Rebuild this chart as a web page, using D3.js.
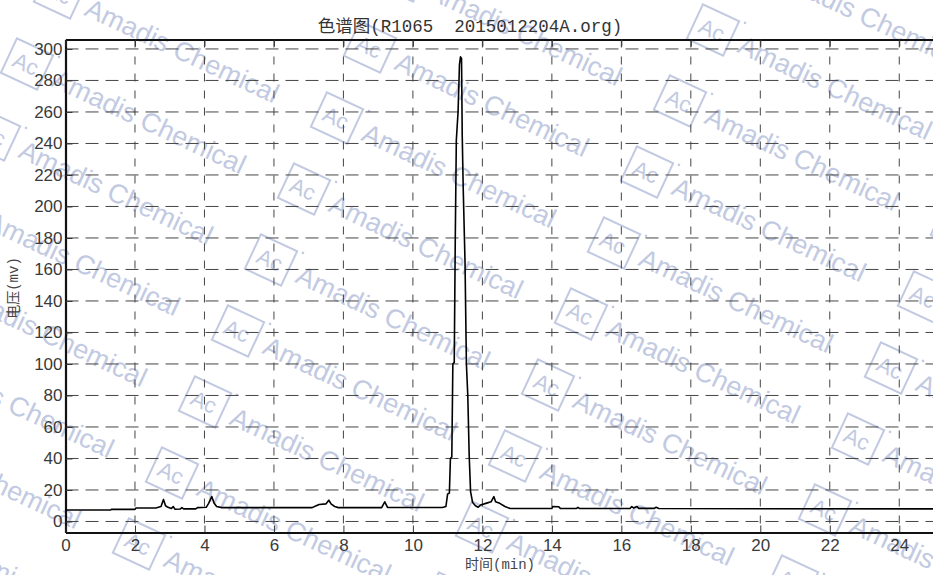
<!DOCTYPE html>
<html>
<head>
<meta charset="utf-8">
<script src="https://cdn.jsdelivr.net/npm/d3@7"></script>
<style>
    body { margin: 0; background: #fff; }
    svg { display: block; }
</style>
</head>
<body>
<svg id="chart"></svg>
<script>
// retention time (min) and detector voltage (mV)
const time = [0, 1.3, 1.32, 2.0, 2.03, 2.6, 2.75, 2.82, 2.88, 2.95, 3.05, 3.1, 3.15, 3.3, 3.35, 3.4, 3.75, 3.8,
    4.05, 4.12, 4.21, 4.28, 4.35, 4.5, 7.1, 7.2, 7.3, 7.5, 7.58, 7.65, 7.75, 7.85, 9.1, 9.19, 9.27, 10.85,
    10.95, 11.0, 11.05, 11.08, 11.12, 11.15, 11.19, 11.22, 11.25, 11.3, 11.34, 11.37, 11.4, 11.42, 11.45,
    11.5, 11.54, 11.58, 11.62, 11.66, 11.72, 11.8, 11.88, 11.95, 12.1, 12.25, 12.33, 12.38, 12.5, 12.65,
    12.8, 14.0, 14.02, 14.2, 14.25, 14.7, 14.75, 14.8, 16.25, 16.3, 16.35, 16.45, 16.5, 16.95, 17.0, 17.08, 25];
const voltage = [7.3, 7.3, 7.7, 7.7, 8.6, 8.6, 9.5, 14.0, 10.0, 9.0, 8.2, 9.5, 7.8, 7.9, 8.8, 8.0, 8.0, 8.8,
    9.0, 11.5, 15.8, 11.5, 9.5, 8.8, 8.8, 9.8, 10.8, 11.2, 13.5, 11.0, 9.5, 8.8, 8.8, 12.5, 8.9, 8.9,
    9.5, 17.5, 18, 40, 41, 100, 101, 180, 242, 260, 290, 295, 294, 245, 210,
    165, 100, 80, 42, 19, 12, 10, 9, 10.5, 11.5, 12.5, 15.8, 12.5, 11.5, 9.5,
    8.2, 8.2, 9.5, 9.3, 8.2, 8.2, 9.0, 8.2, 8.2, 9.5, 8.6, 9.5, 8.3, 8.3, 9.0, 8.2, 8.0];

const xTicks = d3.range(0, 25, 2);
const yTicks = d3.range(0, 301, 20);

const titleText = "色谱图(R1065  2015012204A.org)";
const xLabel = "时间(min)";
const yLabel = "电压(mv)";

const width = 933;
const height = 575;
const margin = { left: 65.5, right: -1, top: 39.5, bottom: 42.5 };

const svg = d3.select("#chart").attr("width", width).attr("height", height);

const x = d3.scaleLinear().domain([0, 25]).range([margin.left, width - margin.right]);
const y = d3.scaleLinear().domain([-7, 306]).range([height - margin.bottom, margin.top]);

// watermark lattice (decoration, behind the plot)
const wmColor = "#c2cae2";
const wmStepA = [-33, 71];
const wmStepB = [343, -17];
const wmOrigin = [337, 118];
const wm = svg.append("g").attr("class", "watermark");
for (let i = -4; i < 10; i++) {
    for (let j = -3; j < 5; j++) {
        const cx = wmOrigin[0] + i * wmStepA[0] + j * wmStepB[0];
        const cy = wmOrigin[1] + i * wmStepA[1] + j * wmStepB[1];
        if (cx < -300 || cx > width + 40 || cy < -60 || cy > height + 60) continue;
        const g = wm.append("g").attr("transform", `translate(${cx},${cy}) rotate(25)`);
        g.append("rect").attr("x", -20).attr("y", -19).attr("width", 40).attr("height", 38)
            .attr("fill", "none").attr("stroke", wmColor).attr("stroke-width", 2);
        g.append("text").attr("x", -1).attr("y", 8).attr("text-anchor", "middle")
            .attr("font-family", "Liberation Sans, Arial, sans-serif").attr("font-size", 22)
            .attr("fill", wmColor).text("Ac");
        g.append("circle").attr("cx", 26).attr("cy", -20).attr("r", 1.3).attr("fill", wmColor);
        g.append("text").attr("x", 30).attr("y", 10)
            .attr("font-family", "Liberation Sans, Arial, sans-serif").attr("font-size", 27)
            .attr("fill", wmColor).text("Amadis Chemical");
    }
}

// grid
const grid = svg.append("g").attr("stroke", "#444").attr("stroke-width", 1).attr("fill", "none");
grid.selectAll("line.h").data(yTicks).join("line").attr("class", "h")
    .attr("x1", x(0)).attr("x2", x(25)).attr("y1", (d) => y(d)).attr("y2", (d) => y(d))
    .attr("stroke-dasharray", "13,7");
grid.selectAll("line.v").data(xTicks.filter((d) => d > 0)).join("line").attr("class", "v")
    .attr("y1", y(306)).attr("y2", y(-7)).attr("x1", (d) => x(d)).attr("x2", (d) => x(d))
    .attr("stroke-dasharray", "8,9");

// axes with inward ticks
const tickFont = "Liberation Sans, Arial, sans-serif";
const yAxis = svg.append("g").attr("transform", `translate(${margin.left},0)`)
    .call(d3.axisLeft(y).tickValues(yTicks).tickSizeInner(-7).tickSizeOuter(0).tickPadding(3));
const xAxis = svg.append("g").attr("transform", `translate(0,${height - margin.bottom})`)
    .call(d3.axisBottom(x).tickValues(xTicks).tickSizeInner(-7).tickSizeOuter(0).tickPadding(6));
const topAxis = svg.append("g").attr("transform", `translate(0,${margin.top})`)
    .call(d3.axisTop(x).tickValues(xTicks).tickSizeInner(-7).tickSizeOuter(0).tickFormat(""));

[yAxis, xAxis, topAxis].forEach((a) => {
    a.select(".domain").attr("stroke", "#111").attr("stroke-width", 2.2);
    a.selectAll(".tick line").attr("stroke", "#333").attr("stroke-width", 1);
    a.selectAll(".tick text").attr("font-family", tickFont).attr("font-size", 17).attr("fill", "#3a3a3a");
});

// chromatogram trace
const points = time.map((t, i) => [t, voltage[i]]);
const line = d3.line().x((d) => x(d[0])).y((d) => y(d[1]));
svg.append("path").datum(points)
    .attr("d", line)
    .attr("fill", "none")
    .attr("stroke", "#000")
    .attr("stroke-width", 1.6)
    .attr("stroke-linejoin", "round");

// texts
svg.append("text").attr("x", 470).attr("y", 32).attr("text-anchor", "middle")
    .attr("xml:space", "preserve")
    .attr("font-family", "Liberation Mono, Noto Sans CJK SC, monospace")
    .attr("font-size", 17.5).attr("fill", "#333").text(titleText);

svg.append("text").attr("x", 500).attr("y", 569).attr("text-anchor", "middle")
    .attr("font-family", "Liberation Mono, Noto Sans CJK SC, monospace")
    .attr("font-size", 14).attr("fill", "#444").text(xLabel);

svg.append("text").attr("transform", "translate(18,288) rotate(-90)").attr("text-anchor", "middle")
    .attr("font-family", "Liberation Mono, Noto Sans CJK SC, monospace")
    .attr("font-size", 14).attr("fill", "#444").text(yLabel);
</script>
</body>
</html>
